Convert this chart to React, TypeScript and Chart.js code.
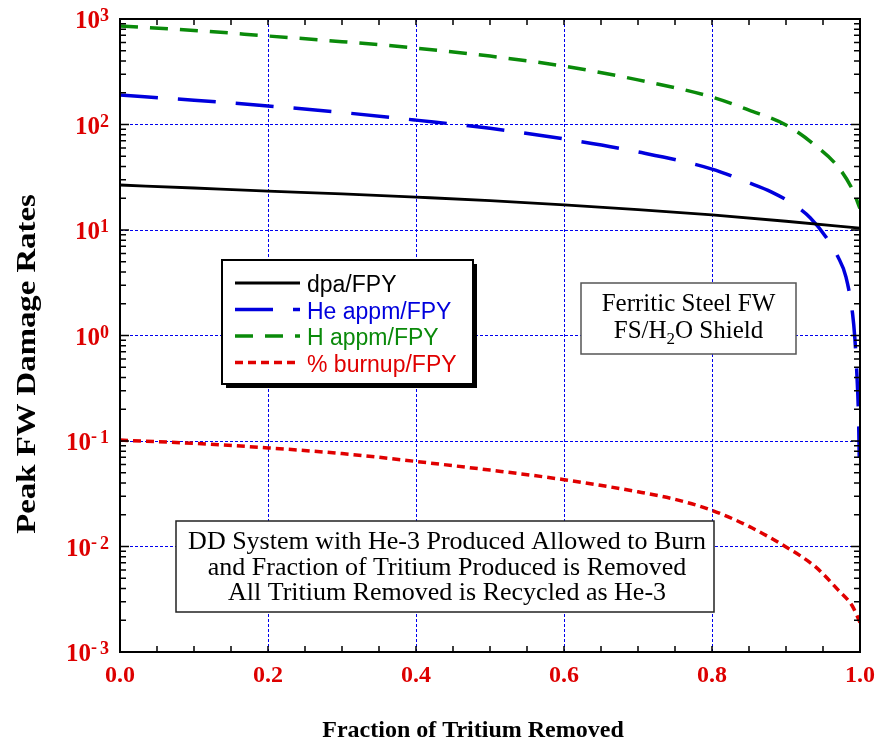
import { useEffect, useRef } from "react";
import { Chart, registerables } from "chart.js";

Chart.register(...registerables);

// Fraction of tritium removed (x) and the peak first-wall damage rates per full-power year
const dpaFraction = [0, 0.1, 0.2, 0.3, 0.4, 0.5, 0.6, 0.7, 0.8, 0.9, 1.0];
const dpaRate = [26.7, 25.0, 23.4, 22.0, 20.5, 19.0, 17.3, 15.6, 13.9, 12.1, 10.4];

const heFraction = [0, 0.1, 0.2, 0.3, 0.4, 0.5, 0.6, 0.7, 0.8, 0.85, 0.88, 0.91, 0.933, 0.955, 0.97, 0.981, 0.99, 0.993, 0.996, 0.998, 0.999];
const heRate = [190, 170, 150, 130, 110, 92, 73, 55, 37.8, 28, 23, 17.5, 13, 8.4, 5.6, 3.6, 1.6, 0.95, 0.4, 0.17, 0.07];

const hFraction = [0, 0.1, 0.2, 0.3, 0.4, 0.5, 0.6, 0.7, 0.8, 0.85, 0.9, 0.94, 0.97, 0.99, 1.0];
const hRate = [860, 780, 690, 610, 530, 445, 357, 265, 182, 137, 99, 63, 40, 24, 16];

const burnupFraction = [0, 0.1, 0.2, 0.3, 0.4, 0.5, 0.6, 0.7, 0.75, 0.8, 0.85, 0.9, 0.94, 0.97, 0.99, 1.0];
const burnupRate = [0.102, 0.095, 0.086, 0.076, 0.064, 0.053, 0.043, 0.033, 0.028, 0.022, 0.0155, 0.0099, 0.0064, 0.0039, 0.0027, 0.0019];

// Axis ticks
const xMin = 0;
const xMax = 1;
const xTickStep = 0.2;
const xMinorStep = 0.05;
const yDecades = [-3, -2, -1, 0, 1, 2, 3];

// Annotation texts
const materialLines = ["Ferritic Steel FW", "FS/H", "2", "O Shield"];
const systemLines = [
  "DD System with He-3 Produced Allowed to Burn",
  "and Fraction of Tritium Produced is Removed",
  "All Tritium Removed is Recycled as He-3",
];
const xTitle = "Fraction of Tritium Removed";
const yTitle = "Peak FW Damage Rates";

const RED = "#dd0000";
const GRID_BLUE = "#0000ee";
const SERIF = "'Liberation Serif', 'Times New Roman', serif";
const SANS = "'Liberation Sans', Arial, sans-serif";

const toPoints = (xs: number[], ys: number[]) => xs.map((x, i) => ({ x, y: ys[i] }));

const isDecade = (v: number) => {
  if (!(v > 0)) return false;
  const l = Math.log10(v);
  return Math.abs(l - Math.round(l)) < 1e-6;
};

const decorations = {
  id: "decorations",
  afterDraw(chart: any) {
    const { ctx, chartArea: a, scales } = chart;
    const xs = scales.x;
    const ys = scales.y;
    ctx.save();

    // inward tick marks on all four sides
    ctx.strokeStyle = "#000";
    ctx.lineWidth = 1.5;
    ctx.setLineDash([]);
    ctx.beginPath();
    const nX = Math.round((xMax - xMin) / xMinorStep);
    for (let i = 0; i <= nX; i++) {
      const x = xs.getPixelForValue(xMin + i * xMinorStep);
      ctx.moveTo(x, a.bottom);
      ctx.lineTo(x, a.bottom - 6);
      ctx.moveTo(x, a.top);
      ctx.lineTo(x, a.top + 6);
    }
    for (let d = yDecades[0]; d < yDecades[yDecades.length - 1]; d++) {
      for (let m = 1; m <= 9; m++) {
        const y = ys.getPixelForValue(m * Math.pow(10, d));
        const len = m === 1 ? 9 : 6;
        ctx.moveTo(a.left, y);
        ctx.lineTo(a.left + len, y);
        ctx.moveTo(a.right, y);
        ctx.lineTo(a.right - len, y);
      }
    }
    ctx.stroke();

    // frame
    ctx.lineWidth = 2;
    ctx.strokeRect(a.left, a.top, a.right - a.left, a.bottom - a.top);

    // y tick labels as powers of ten
    ctx.fillStyle = RED;
    ctx.textBaseline = "alphabetic";
    for (const d of yDecades) {
      const y = ys.getPixelForValue(Math.pow(10, d));
      const digit = String(Math.abs(d));
      ctx.font = `bold 18px ${SERIF}`;
      ctx.textAlign = "left";
      ctx.fillText(digit, 100, y + 2);
      let baseRight = 100;
      if (d < 0) {
        ctx.textAlign = "right";
        ctx.fillText("-", 97, y + 1);
        baseRight = 91;
      }
      ctx.font = `bold 25px ${SERIF}`;
      ctx.textAlign = "right";
      ctx.fillText("10", baseRight, y + 9);
    }

    // axis titles
    ctx.fillStyle = "#000";
    ctx.font = `bold 24px ${SERIF}`;
    ctx.textAlign = "center";
    ctx.fillText(xTitle, 473, 737);

    ctx.save();
    ctx.translate(35, 364);
    ctx.rotate(-Math.PI / 2);
    ctx.scale(1.17, 1);
    ctx.font = `bold 28px ${SERIF}`;
    ctx.fillText(yTitle, 0, 0);
    ctx.restore();

    // legend with drop shadow
    const lg = { x: 222, y: 260, w: 251, h: 124 };
    ctx.fillStyle = "#000";
    ctx.fillRect(lg.x + 4, lg.y + 4, lg.w, lg.h);
    ctx.fillStyle = "#fff";
    ctx.fillRect(lg.x, lg.y, lg.w, lg.h);
    ctx.strokeStyle = "#000";
    ctx.lineWidth = 2;
    ctx.strokeRect(lg.x, lg.y, lg.w, lg.h);
    chart.data.datasets.forEach((ds: any, i: number) => {
      const cy = 284 + i * 26.5;
      ctx.strokeStyle = ds.borderColor;
      ctx.lineWidth = ds.borderWidth;
      ctx.setLineDash(ds.borderDash || []);
      ctx.beginPath();
      ctx.moveTo(235, cy - 1);
      ctx.lineTo(300, cy - 1);
      ctx.stroke();
      ctx.setLineDash([]);
      ctx.fillStyle = ds.borderColor;
      ctx.font = `23px ${SANS}`;
      ctx.textAlign = "left";
      ctx.fillText(ds.label, 307, cy + 8);
    });

    // material box
    const mb = { x: 581, y: 283, w: 215, h: 71 };
    ctx.fillStyle = "#fff";
    ctx.fillRect(mb.x, mb.y, mb.w, mb.h);
    ctx.strokeStyle = "#555";
    ctx.lineWidth = 1.5;
    ctx.strokeRect(mb.x, mb.y, mb.w, mb.h);
    ctx.fillStyle = "#000";
    ctx.font = `25px ${SERIF}`;
    ctx.textAlign = "center";
    const mcx = mb.x + mb.w / 2;
    ctx.fillText(materialLines[0], mcx, 311);
    ctx.font = `25px ${SERIF}`;
    const w1 = ctx.measureText(materialLines[1]).width;
    const w3 = ctx.measureText(materialLines[3]).width;
    ctx.font = `17px ${SERIF}`;
    const w2 = ctx.measureText(materialLines[2]).width;
    let sx = mcx - (w1 + w2 + w3) / 2;
    ctx.textAlign = "left";
    ctx.font = `25px ${SERIF}`;
    ctx.fillText(materialLines[1], sx, 338);
    sx += w1;
    ctx.font = `17px ${SERIF}`;
    ctx.fillText(materialLines[2], sx, 344);
    sx += w2;
    ctx.font = `25px ${SERIF}`;
    ctx.fillText(materialLines[3], sx, 338);

    // system description box
    const sb = { x: 176, y: 521, w: 538, h: 91 };
    ctx.fillStyle = "#fff";
    ctx.fillRect(sb.x, sb.y, sb.w, sb.h);
    ctx.strokeStyle = "#222";
    ctx.lineWidth = 1.5;
    ctx.strokeRect(sb.x, sb.y, sb.w, sb.h);
    ctx.fillStyle = "#000";
    ctx.font = `26px ${SERIF}`;
    ctx.textAlign = "center";
    systemLines.forEach((t, i) => ctx.fillText(t, 447, 549 + i * 25.5));

    ctx.restore();
  },
};

export default function App() {
  const ref = useRef<HTMLCanvasElement>(null);

  useEffect(() => {
    const line = {
      showLine: true,
      pointRadius: 0,
      pointHoverRadius: 0,
      fill: false,
      cubicInterpolationMode: "monotone" as const,
    };
    const chart = new Chart(ref.current!, {
      type: "scatter",
      data: {
        datasets: [
          { ...line, label: "dpa/FPY", data: toPoints(dpaFraction, dpaRate), borderColor: "#000000", borderWidth: 2.8, borderDash: [] },
          { ...line, label: "He appm/FPY", data: toPoints(heFraction, heRate), borderColor: "#0000dd", borderWidth: 3.5, borderDash: [38, 20] },
          { ...line, label: "H appm/FPY", data: toPoints(hFraction, hRate), borderColor: "#0a8a0a", borderWidth: 3.5, borderDash: [18, 12] },
          { ...line, label: "% burnup/FPY", data: toPoints(burnupFraction, burnupRate), borderColor: "#e00000", borderWidth: 3.5, borderDash: [8, 5] },
        ],
      },
      options: {
        animation: false,
        responsive: false,
        devicePixelRatio: 1,
        events: [],
        layout: { padding: { top: 19, right: 20, left: 0, bottom: 0 } },
        plugins: { legend: { display: false }, tooltip: { enabled: false } },
        scales: {
          x: {
            type: "linear",
            min: xMin,
            max: xMax,
            afterFit: (s: any) => {
              s.height = 90;
              s.paddingLeft = 0;
              s.paddingRight = 0;
            },
            grid: {
              color: (c: any) => {
                const v = c.tick ? c.tick.value : 0;
                return v > xMin + 1e-6 && v < xMax - 1e-6 ? GRID_BLUE : "rgba(0,0,0,0)";
              },
              lineWidth: 1,
              drawTicks: false,
            },
            border: { display: false, dash: [3, 2] },
            ticks: {
              stepSize: xTickStep,
              autoSkip: false,
              maxRotation: 0,
              padding: 9,
              color: RED,
              font: { family: SERIF, weight: "bold", size: 24 },
              callback: (v: any) => Number(v).toFixed(1),
            },
          },
          y: {
            type: "logarithmic",
            min: Math.pow(10, yDecades[0]),
            max: Math.pow(10, yDecades[yDecades.length - 1]),
            afterFit: (s: any) => {
              s.width = 120;
              s.paddingTop = 0;
              s.paddingBottom = 0;
            },
            grid: {
              color: (c: any) => {
                const v = c.tick ? c.tick.value : 0;
                return isDecade(v) && v > 1.001e-3 && v < 0.999e3 ? GRID_BLUE : "rgba(0,0,0,0)";
              },
              lineWidth: 1,
              drawTicks: false,
            },
            border: { display: false, dash: [3, 2] },
            ticks: { display: false },
          },
        },
      },
      plugins: [decorations],
    });
    return () => chart.destroy();
  }, []);

  return (
    <div style={{ position: "absolute", left: 0, top: 0, width: 880, height: 742, background: "#fff" }}>
      <canvas ref={ref} width={880} height={742} style={{ display: "block" }} />
    </div>
  );
}
